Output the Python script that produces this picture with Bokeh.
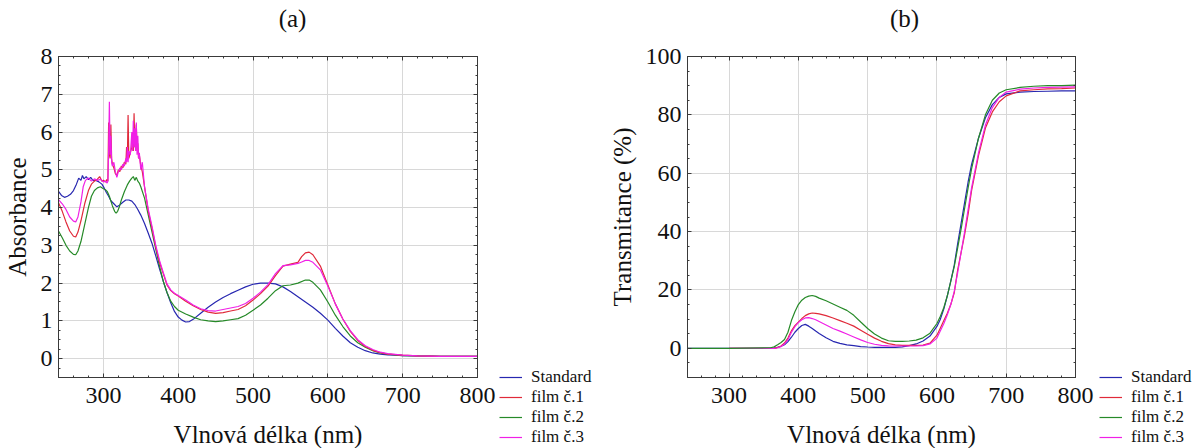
from bokeh.plotting import figure
from bokeh.models import (Legend, LegendItem, LinearAxis, Range1d, SingleIntervalTicker, Label, Spacer,
                          CustomLabelingPolicy)
from bokeh.layouts import row, column
from bokeh.embed import file_html
from bokeh.resources import INLINE

FONT = "Liberation Serif, DejaVu Serif, serif"
C_STD = "#2727b0"
C_F1 = "#e02a3a"
C_F2 = "#268a28"
C_F3 = "#f020e6"
AX = "#3a3a3a"

series_names = ["Standard", "film č.1", "film č.2", "film č.3"]
series_colors = [C_STD, C_F1, C_F2, C_F3]
x_label = "Vlnová délka (nm)"

# ---------------- panel (a): absorbance ----------------
std_a_wl = [240, 244, 248, 252, 256, 260, 264, 267, 270, 272, 274, 277, 280, 283, 286, 290, 294, 298, 301, 304,
            307, 310, 314, 318, 322, 326, 330, 334, 338, 342, 346, 350, 355, 360, 365, 370, 375, 380, 385, 390,
            395, 400, 405, 410, 415, 420, 430, 440, 450, 460, 470, 480, 490, 500, 510, 520, 530, 540, 550, 560,
            570, 580, 590, 600, 610, 620, 630, 640, 650, 660, 670, 680, 690, 700, 720, 750, 800]
std_a = [4.43, 4.32, 4.27, 4.3, 4.35, 4.45, 4.62, 4.78, 4.72, 4.85, 4.76, 4.82, 4.74, 4.8, 4.72, 4.72, 4.68, 4.62, 4.52, 4.4,
         4.3, 4.18, 4.1, 4.02, 4.07, 4.14, 4.2, 4.2, 4.17, 4.08, 3.95, 3.8, 3.58, 3.32, 3.05, 2.72, 2.38, 2.05, 1.75, 1.48,
         1.25, 1.1, 1.02, 0.97, 0.98, 1.04, 1.2, 1.36, 1.5, 1.62, 1.72, 1.81, 1.9, 1.97, 2.0, 2.0, 1.98, 1.9, 1.78, 1.64,
         1.5, 1.36, 1.2, 1.02, 0.8, 0.6, 0.42, 0.3, 0.21, 0.15, 0.12, 0.1, 0.09, 0.08, 0.07, 0.06, 0.06]

f1_a_wl = [240, 245, 250, 255, 260, 263, 266, 270, 275, 280, 284, 288, 292, 295, 298, 300, 303, 305, 306, 307,
           308, 309, 310, 311, 312, 314, 316, 318, 320, 322, 324, 326, 328, 330, 331, 332, 333, 334, 336, 338,
           339, 340, 341, 342, 343, 344, 345, 346, 347, 348, 350, 352, 355, 360, 365, 370, 375, 380, 385, 390,
           395, 400, 410, 420, 430, 440, 450, 460, 470, 480, 490, 500, 510, 520, 530, 540, 550, 560, 565, 570,
           575, 580, 590, 600, 610, 620, 630, 640, 650, 660, 670, 680, 700, 720, 750, 800]
f1_a = [4.13, 3.9, 3.62, 3.38, 3.24, 3.22, 3.35, 3.65, 4.1, 4.45, 4.62, 4.7, 4.75, 4.82, 4.7, 4.72, 4.68, 4.75, 4.7, 6.25,
        5.4, 5.3, 6.2, 5.3, 5.15, 5.05, 4.9, 4.85, 5.0, 4.95, 5.1, 5.05, 5.2, 5.15, 5.6, 5.25, 6.45, 5.3, 5.45, 5.6,
        5.9, 5.5, 6.5, 5.6, 5.8, 6.2, 5.5, 5.7, 5.3, 5.4, 5.1, 4.95, 4.55, 3.9, 3.45, 2.95, 2.55, 2.25, 1.95, 1.8,
        1.72, 1.66, 1.52, 1.4, 1.3, 1.23, 1.2, 1.22, 1.26, 1.3, 1.4, 1.55, 1.72, 1.92, 2.2, 2.45, 2.5, 2.55, 2.7, 2.8,
        2.82, 2.75, 2.45, 1.95, 1.45, 1.05, 0.72, 0.48, 0.32, 0.22, 0.16, 0.12, 0.09, 0.07, 0.06, 0.06]

f2_a_wl = [240, 245, 250, 255, 260, 263, 266, 270, 275, 280, 284, 288, 292, 296, 300, 303, 305, 308, 312, 315,
           317, 319, 321, 324, 328, 332, 335, 338, 340, 342, 344, 346, 348, 350, 355, 360, 365, 370, 375, 380,
           385, 390, 395, 400, 410, 420, 430, 440, 450, 460, 470, 480, 490, 500, 510, 520, 530, 540, 550, 560,
           570, 575, 580, 590, 600, 610, 620, 630, 640, 650, 660, 670, 680, 700, 720, 750, 800]
f2_a = [3.38, 3.2, 3.0, 2.85, 2.76, 2.75, 2.85, 3.1, 3.55, 4.0, 4.3, 4.45, 4.52, 4.55, 4.5, 4.47, 4.43, 4.3, 4.05, 3.9,
        3.85, 3.9, 4.0, 4.2, 4.42, 4.6, 4.7, 4.78, 4.82, 4.72, 4.8, 4.7, 4.65, 4.55, 4.25, 3.8, 3.35, 2.9, 2.45, 2.05,
        1.75, 1.52, 1.38, 1.28, 1.18, 1.1, 1.03, 1.0, 0.98, 1.0, 1.03, 1.06, 1.15, 1.28, 1.42, 1.6, 1.8, 1.93, 1.95, 2.0,
        2.08, 2.08, 2.02, 1.82, 1.5, 1.15, 0.85, 0.6, 0.42, 0.3, 0.21, 0.15, 0.12, 0.08, 0.07, 0.06, 0.06]

f3_a_wl = [240, 245, 250, 255, 260, 263, 266, 270, 273, 276, 280, 284, 288, 292, 296, 300, 303, 305, 306, 307,
           308, 309, 310, 311, 312, 314, 316, 318, 320, 322, 324, 326, 328, 330, 331, 332, 333, 334, 336, 338,
           339, 340, 341, 342, 343, 344, 345, 346, 347, 348, 350, 352, 355, 360, 365, 370, 375, 380, 385, 390,
           395, 400, 410, 420, 430, 440, 450, 460, 470, 480, 490, 500, 510, 520, 530, 540, 550, 560, 565, 570,
           575, 580, 590, 600, 610, 620, 630, 640, 650, 660, 670, 680, 700, 720, 750, 800]
f3_a = [4.21, 4.1, 3.95, 3.75, 3.64, 3.62, 3.75, 4.15, 4.55, 4.72, 4.78, 4.7, 4.76, 4.72, 4.75, 4.68, 4.7, 4.65, 4.7, 5.5,
        6.8, 5.4, 5.9, 5.2, 5.1, 5.2, 4.95, 4.8, 4.95, 5.05, 5.0, 5.15, 5.1, 5.3, 5.2, 5.6, 5.2, 5.5, 5.4, 6.0,
        5.5, 6.3, 5.6, 6.1, 5.5, 6.25, 5.4, 5.9, 5.3, 5.45, 5.0, 5.2, 4.55, 3.95, 3.5, 3.0, 2.6, 2.28, 1.98, 1.82,
        1.73, 1.67, 1.55, 1.42, 1.32, 1.27, 1.26, 1.3, 1.34, 1.38, 1.46, 1.6, 1.76, 1.96, 2.25, 2.46, 2.48, 2.52, 2.56, 2.6,
        2.6, 2.55, 2.35, 1.92, 1.45, 1.05, 0.74, 0.5, 0.34, 0.24, 0.17, 0.13, 0.09, 0.07, 0.06, 0.06]

# ---------------- panel (b): transmittance ----------------
b_wl = [240, 300, 360, 365, 370, 375, 380, 385, 390, 395, 400, 405, 410, 415, 420, 425, 430, 440, 450, 460,
        470, 480, 490, 500, 510, 520, 530, 540, 550, 560, 570, 580, 590, 600, 605, 610, 615, 620, 625, 630,
        635, 640, 645, 650, 660, 670, 680, 690, 700, 720, 740, 760, 780, 800]
std_b = [0, 0, 0, 0.1, 0.3, 0.7, 1.2, 2.3, 3.8, 5.5, 6.8, 7.8, 8.2, 7.6, 6.8, 5.9, 5.1, 3.6, 2.4, 1.7,
         1.2, 0.9, 0.6, 0.45, 0.35, 0.3, 0.3, 0.35, 0.5, 0.9, 1.5, 2.5, 4.2, 7.5, 10, 13.5, 18, 23, 28.5, 36,
         43, 50, 57, 63, 72, 79, 83.5, 86, 87.2, 87.8, 88.0, 88.1, 88.2, 88.2]
f1_b = [0, 0, 0, 0, 0.3, 0.8, 1.8, 3.5, 6.0, 7.8, 9.0, 10.2, 11.2, 11.8, 12.1, 12.0, 11.8, 11.2, 10.4, 9.5,
        8.6, 7.6, 6.2, 4.8, 3.5, 2.4, 1.6, 1.2, 1.0, 1.0, 1.0, 1.1, 1.8, 4.5, 7.0, 9.5, 12, 15, 19, 27,
        33, 39, 46, 54, 66, 75.5, 81, 84.5, 86.5, 88.2, 88.6, 88.9, 89.0, 89.2]
f2_b = [0, 0, 0.2, 0.5, 1.2, 2.0, 3.0, 5.5, 9.5, 12.5, 15.0, 16.5, 17.4, 17.9, 18.1, 17.8, 17.2, 16.3, 15.2, 14.1,
        13.0, 11.3, 9.0, 6.8, 4.9, 3.5, 2.6, 2.4, 2.4, 2.5, 2.8, 3.6, 5.2, 8.5, 11, 14, 18, 23, 28, 34.5,
        41, 48, 55, 61.5, 72, 80, 85, 87.5, 88.6, 89.4, 89.8, 90.0, 90.0, 90.2]
f3_b = [0, 0, 0, 0, 0.2, 0.6, 1.5, 3.0, 5.5, 7.4, 8.8, 9.8, 10.4, 10.5, 10.2, 9.8, 9.2, 8.0, 6.8, 5.9,
        4.9, 3.9, 2.9, 2.0, 1.4, 1.0, 0.85, 0.8, 0.8, 0.8, 0.8, 0.9, 1.5, 3.5, 6.0, 8.5, 11.5, 15, 19.5, 26,
        33, 40, 47.5, 55, 67, 76.5, 82.5, 86, 87.8, 88.8, 89.2, 89.4, 89.5, 89.6]

TOTAL_H = 448
TITLE_H = 36
FRAME_H = 321
B_TOP = 20                     # frame top at 56
B_BOT = TOTAL_H - TITLE_H - B_TOP - FRAME_H   # 71
LEG_TOP = 367                  # absolute top of the legend block
LEG_H = TOTAL_H - LEG_TOP      # 81
ROW_H = 20

NO_LABELS = "for (const i of indices) { indices.unset(i) }\nreturn indices"


def bare(width, height):
    f = figure(width=width, height=height, x_range=Range1d(0, 1), y_range=Range1d(0, 1),
               x_axis_location=None, y_axis_location=None, toolbar_location=None,
               output_backend="svg", min_border=0, outline_line_color=None,
               background_fill_color="white", border_fill_color="white")
    f.grid.visible = False
    return f


def build(frame_w, b_left, y_rng, y_int, y_minor, ylabel, title, title_x, lines, leg_w, leg_x):
    main_w = b_left + frame_w + 20
    p = figure(frame_width=frame_w, frame_height=FRAME_H,
               min_border_left=b_left, min_border_right=20,
               min_border_top=B_TOP, min_border_bottom=B_BOT,
               x_range=Range1d(240, 800), y_range=Range1d(*y_rng),
               output_backend="svg", toolbar_location=None, title=None,
               background_fill_color="white", border_fill_color="white")
    p.outline_line_color = AX
    xt = SingleIntervalTicker(interval=100, num_minor_ticks=5)
    yt = SingleIntervalTicker(interval=y_int, num_minor_ticks=y_minor)
    bottom = p.below[0]
    left = p.left[0]
    bottom.ticker = xt
    left.ticker = yt
    p.xgrid.ticker = xt
    p.ygrid.ticker = yt
    p.grid.grid_line_color = "#d8d8d8"
    p.grid.grid_line_width = 1
    top = LinearAxis(ticker=xt)
    right = LinearAxis(ticker=yt)
    p.add_layout(top, "above")
    p.add_layout(right, "right")
    for ax in (bottom, left, top, right):
        ax.axis_line_color = AX
        ax.major_tick_line_color = AX
        ax.minor_tick_line_color = AX
        ax.major_tick_in = 4
        ax.major_tick_out = 0
        ax.minor_tick_in = 2
        ax.minor_tick_out = 0
        ax.major_label_text_font = FONT
        ax.major_label_text_font_size = "24px"
        ax.major_label_text_color = "#111111"
        ax.axis_label_text_font = FONT
        ax.axis_label_text_font_size = "25px"
        ax.axis_label_text_font_style = "normal"
        ax.axis_label_text_color = "#111111"
    for ax in (top, right):
        # tick marks only on the top and right edges
        ax.major_label_text_font_size = "0px"
        ax.major_label_standoff = 0
        ax.major_label_policy = CustomLabelingPolicy(code=NO_LABELS)
    bottom.axis_label = x_label
    bottom.major_label_standoff = 10
    bottom.axis_label_standoff = 15
    left.axis_label = ylabel
    left.major_label_standoff = 6
    left.axis_label_standoff = 7

    for wl, vals, color in lines:
        p.line(wl, vals, line_color=color, line_width=1.2)

    # title strip above the plot
    tf = bare(main_w + leg_w, TITLE_H)
    tf.add_layout(Label(x=title_x, y=TITLE_H / 2, x_units="screen", y_units="screen",
                        text=title, text_font=FONT, text_font_size="25px", text_color="#111111",
                        text_align="center", text_baseline="middle"))

    # legend block to the right of the frame, below its bottom edge
    lg = bare(leg_w, LEG_H)
    by_name = {}
    for wl, vals, color in lines:
        by_name[color] = lg.line(wl, vals, line_color=color, line_width=1.2)   # outside the 0..1 range: only the legend shows
    rs = [by_name[c] for c in series_colors]
    legend = Legend(items=[LegendItem(label=n, renderers=[r]) for n, r in zip(series_names, rs)],
                    location=(leg_x, LEG_H - 4 * ROW_H), orientation="vertical",
                    padding=0, margin=0, spacing=0,
                    glyph_width=23, glyph_height=ROW_H, label_height=ROW_H, label_standoff=9,
                    label_text_font=FONT, label_text_font_size="17px", label_text_color="#111111",
                    border_line_color=None, background_fill_alpha=0)
    lg.add_layout(legend)
    side = column(Spacer(width=leg_w, height=LEG_TOP - TITLE_H), lg)
    return column(tf, row(p, side))


pa = build(419, 51, (-0.5, 8), 1, 4, "Absorbance", "(a)", 292,
           [(std_a_wl, std_a, C_STD),
            (f2_a_wl, f2_a, C_F2),
            (f1_a_wl, f1_a, C_F1),
            (f3_a_wl, f3_a, C_F3)], 102, 2)

pb = build(388, 88, (-10, 100), 20, 4, "Transmitance (%)", "(b)", 305,
           [(b_wl, std_b, C_STD),
            (b_wl[1:], f1_b[1:], C_F1),
            (b_wl[1:], f3_b[1:], C_F3),
            (b_wl, f2_b, C_F2)], 97, 4)

layout = row(pa, pb)
open("out.html", "w").write(file_html(layout, INLINE))
